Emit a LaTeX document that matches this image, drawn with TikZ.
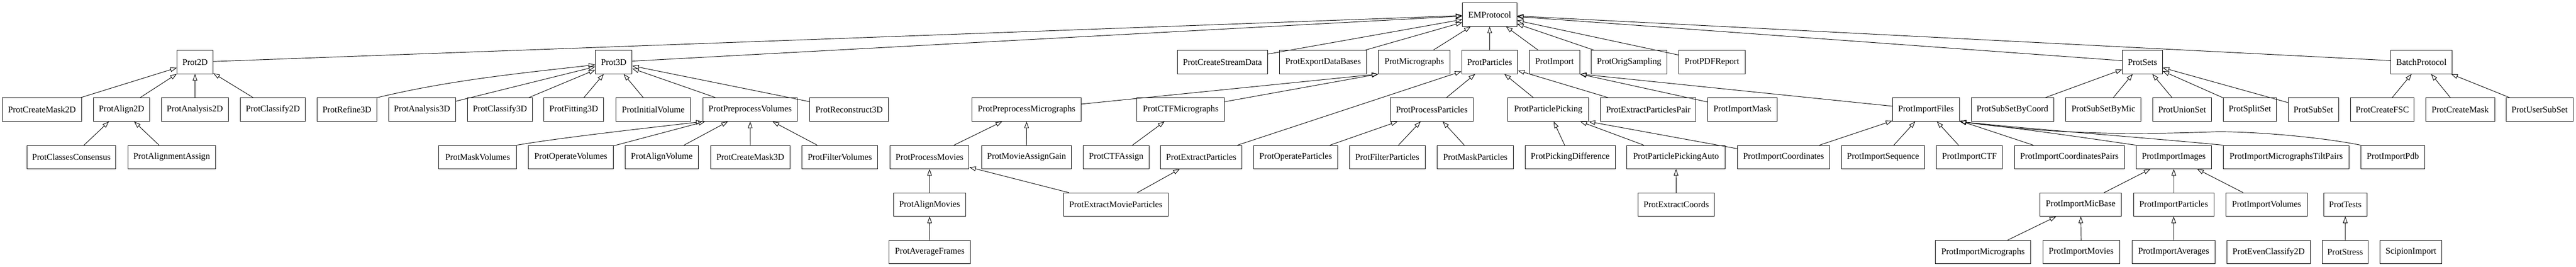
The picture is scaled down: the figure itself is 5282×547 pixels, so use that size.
\documentclass[tikz,border=0pt]{standalone}
\usepackage{fontspec}
\setmainfont{Liberation Serif}
\usetikzlibrary{arrows.meta,calc}
\tikzset{
  cls/.style={draw, line width=0.75pt, minimum height=36pt, inner sep=0pt, anchor=center, font=\fontsize{13.5}{16}\selectfont},
  inh/.style={line width=0.75pt, -{Triangle[open, length=10pt, width=7pt]}}
}
\newcommand\mkbox[5]{\node[cls, minimum width={(#4-#3)*0.75pt}] (#1) at ({(#3+#4)/2},{30+97.333*#5}) {#2};}
\begin{document}
\begin{tikzpicture}[x=0.75pt, y=-0.75pt]
\useasboundingbox (0,0) rectangle (5282,547);
% row 0
\mkbox{em}{EMProtocol}{2999}{3110}{0}
% row 1
\mkbox{p2d}{Prot2D}{363}{437}{1}
\mkbox{p3d}{Prot3D}{1221}{1296}{1}
\mkbox{csd}{ProtCreateStreamData}{2414}{2599}{1}
\mkbox{edb}{ProtExportDataBases}{2624}{2802}{1}
\mkbox{mic}{ProtMicrographs}{2826.6}{2973}{1}
\mkbox{par}{ProtParticles}{2997}{3112}{1}
\mkbox{imp}{ProtImport}{3136}{3239}{1}
\mkbox{ors}{ProtOrigSampling}{3263}{3418}{1}
\mkbox{pdf}{ProtPDFReport}{3442.5}{3578}{1}
\mkbox{sets}{ProtSets}{4352}{4434}{1}
\mkbox{batch}{BatchProtocol}{4902}{5028}{1}
% row 2
\mkbox{cmtwo}{ProtCreateMask2D}{4.6}{167.6}{2}
\mkbox{altwo}{ProtAlign2D}{192}{306.5}{2}
\mkbox{antwo}{ProtAnalysis2D}{331}{468}{2}
\mkbox{cltwo}{ProtClassify2D}{493}{626}{2}
\mkbox{refthree}{ProtRefine3D}{650}{772.6}{2}
\mkbox{anthree}{ProtAnalysis3D}{796.7}{934}{2}
\mkbox{clthree}{ProtClassify3D}{958.6}{1091.8}{2}
\mkbox{fitthree}{ProtFitting3D}{1115}{1238}{2}
\mkbox{iv}{ProtInitialVolume}{1263}{1416}{2}
\mkbox{ppv}{ProtPreprocessVolumes}{1441}{1635}{2}
\mkbox{recthree}{ProtReconstruct3D}{1660}{1822}{2}
\mkbox{ppm}{ProtPreprocessMicrographs}{1993}{2217}{2}
\mkbox{ctfm}{ProtCTFMicrographs}{2331}{2511}{2}
\mkbox{ppar}{ProtProcessParticles}{2850.6}{3021}{2}
\mkbox{pick}{ProtParticlePicking}{3092}{3257}{2}
\mkbox{epp}{ProtExtractParticlesPair}{3282}{3477.5}{2}
\mkbox{imask}{ProtImportMask}{3501.6}{3644}{2}
\mkbox{ifiles}{ProtImportFiles}{3880.5}{4017.7}{2}
\mkbox{sbc}{ProtSubSetByCoord}{4041.8}{4211}{2}
\mkbox{sbm}{ProtSubSetByMic}{4236}{4390}{2}
\mkbox{union}{ProtUnionSet}{4414}{4534.5}{2}
\mkbox{split}{ProtSplitSet}{4558.6}{4667.8}{2}
\mkbox{subset}{ProtSubSet}{4692}{4795}{2}
\mkbox{fsc}{ProtCreateFSC}{4819.6}{4950}{2}
\mkbox{cmask}{ProtCreateMask}{4974}{5115}{2}
\mkbox{uss}{ProtUserSubSet}{5138.6}{5276}{2}
% row 3
\mkbox{cc}{ProtClassesConsensus}{55}{237.6}{3}
\mkbox{aa}{ProtAlignmentAssign}{262}{442}{3}
\mkbox{mv}{ProtMaskVolumes}{900}{1059}{3}
\mkbox{ov}{ProtOperateVolumes}{1083}{1258}{3}
\mkbox{av}{ProtAlignVolume}{1282}{1432}{3}
\mkbox{cmthree}{ProtCreateMask3D}{1457}{1620}{3}
\mkbox{fv}{ProtFilterVolumes}{1644}{1800}{3}
\mkbox{pm}{ProtProcessMovies}{1825}{1987}{3}
\mkbox{mag}{ProtMovieAssignGain}{2012.6}{2197}{3}
\mkbox{ctfa}{ProtCTFAssign}{2221.5}{2356}{3}
\mkbox{ep}{ProtExtractParticles}{2380}{2546}{3}
\mkbox{op}{ProtOperateParticles}{2570.5}{2743}{3}
\mkbox{fp}{ProtFilterParticles}{2767}{2922}{3}
\mkbox{mp}{ProtMaskParticles}{2947}{3103}{3}
\mkbox{pd}{ProtPickingDifference}{3127}{3312}{3}
\mkbox{ppa}{ProtParticlePickingAuto}{3336}{3537}{3}
\mkbox{ic}{ProtImportCoordinates}{3562.5}{3752}{3}
\mkbox{iseq}{ProtImportSequence}{3775.5}{3946.5}{3}
\mkbox{ictf}{ProtImportCTF}{3970.6}{4106}{3}
\mkbox{icp}{ProtImportCoordinatesPairs}{4130.7}{4355.7}{3}
\mkbox{iimg}{ProtImportImages}{4380}{4534.5}{3}
\mkbox{itp}{ProtImportMicrographsTiltPairs}{4558.6}{4817}{3}
\mkbox{ipdb}{ProtImportPdb}{4841}{4972}{3}
% row 4
\mkbox{am}{ProtAlignMovies}{1832}{1980}{4}
\mkbox{emp}{ProtExtractMovieParticles}{2181}{2395}{4}
\mkbox{ecoord}{ProtExtractCoords}{3359}{3515}{4}
\mkbox{imb}{ProtImportMicBase}{4183}{4349.5}{4}
\mkbox{ipart}{ProtImportParticles}{4374.7}{4539.5}{4}
\mkbox{ivol}{ProtImportVolumes}{4564}{4731}{4}
\mkbox{tests}{ProtTests}{4764.5}{4853.4}{4}
% row 5
\mkbox{af}{ProtAverageFrames}{1823}{1990}{5}
\mkbox{imics}{ProtImportMicrographs}{3968}{4164}{5}
\mkbox{imov}{ProtImportMovies}{4188.7}{4346}{5}
\mkbox{iavg}{ProtImportAverages}{4372}{4541.8}{5}
\mkbox{even}{ProtEvenClassify2D}{4566.5}{4737}{5}
\mkbox{stress}{ProtStress}{4761.7}{4855.6}{5}
\mkbox{scip}{ScipionImport}{4880}{5007}{5}
\coordinate (pdbpeak) at (4547,270);
% edges to EMProtocol
\foreach \c in {p2d,p3d,csd,edb,mic,par,imp,ors,pdf,sets,batch}
  \draw[inh] (\c) -- (em);
% Prot2D
\foreach \c in {cmtwo,altwo,antwo,cltwo}
  \draw[inh] (\c) -- (p2d);
\draw[inh] (cc) -- (altwo);
\draw[inh] (aa) -- (altwo);
% Prot3D
\draw[inh] (refthree.north east) .. controls (923,164) and (1072,149.5) .. ($(p3d.west)+(0,5.4)$);
\foreach \c in {anthree,clthree,fitthree,iv,ppv,recthree}
  \draw[inh] (\c) -- (p3d);
% ProtPreprocessVolumes
\draw[inh] (mv.north east) .. controls (1150,282) and (1330,262) .. (ppv.south west);
\foreach \c in {ov,av,cmthree,fv}
  \draw[inh] (\c) -- (ppv);
% Micrographs
\draw[inh] (ppm) -- (mic.south west);
\draw[inh] (ctfm) -- (mic.south west);
\draw[inh] (pm) -- (ppm);
\draw[inh] (mag) -- (ppm);
\draw[inh] (ctfa) -- (ctfm);
\draw[inh] (am) -- (pm);
\draw[inh] (emp) -- (pm);
\draw[inh] (emp) -- (ep);
\draw[inh] (af) -- (am);
% Particles
\foreach \c in {ep,ppar,pick,epp}
  \draw[inh] (\c) -- (par);
\foreach \c in {op,fp,mp}
  \draw[inh] (\c) -- (ppar);
\draw[inh] (pd) -- (pick);
\draw[inh] (ppa) -- (pick);
\draw[inh] (ic) -- (pick.south east);
\draw[inh] (ecoord) -- (ppa);
% Import
\draw[inh] (ifiles) -- (imp.south east);
\draw[inh] (imask) -- (imp.south east);
\foreach \c in {ic,iseq,ictf,icp}
  \draw[inh] (\c) -- (ifiles);
\draw[inh] (iimg.north west) .. controls (4300,286) and (4180,268) .. (ifiles.south east);
\draw[inh] (itp.north west) .. controls (4400,282) and (4200,268) .. (ifiles.south east);
\draw[inh] (ipdb.north west) .. controls (4770,283) and (4640,270) .. (pdbpeak) .. controls (4420,274) and (4250,280) .. (ifiles.south east);
\foreach \c in {imb,ipart,ivol}
  \draw[inh] (\c) -- (iimg);
\draw[inh] (imics) -- (imb);
\draw[inh] (imov) -- (imb);
\draw[inh] (iavg) -- (ipart);
\draw[inh] (stress) -- (tests);
% Sets
\foreach \c in {sbc,sbm,union,split,subset}
  \draw[inh] (\c) -- (sets);
\foreach \c in {fsc,cmask,uss}
  \draw[inh] (\c) -- (batch);
\end{tikzpicture}
\end{document}
